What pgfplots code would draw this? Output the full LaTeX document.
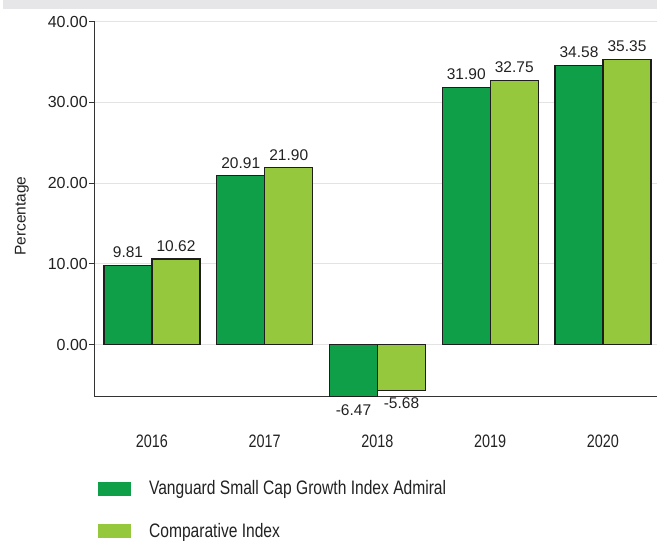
\documentclass[border=0pt]{standalone}
\usepackage{fontspec}
\setmainfont{Liberation Sans}
\newfontfamily\narrowfont[FakeStretch=0.8]{Liberation Sans}
\usepackage{pgfplots}
\pgfplotsset{compat=1.18}
\definecolor{dgreen}{HTML}{0F9F48}
\definecolor{lgreen}{HTML}{96C83E}
\definecolor{gridgray}{HTML}{E3E3E3}
\definecolor{bandgray}{HTML}{E6E6E8}
\definecolor{axisgray}{HTML}{333333}
\definecolor{bordergray}{HTML}{1E1E1E}
\definecolor{textgray}{HTML}{222222}
\begin{document}
\begin{tikzpicture}[x=1pt,y=1pt]
\useasboundingbox (0,0) rectangle (657,541);
\fill[bandgray] (3,532) rectangle (657,541);
\begin{axis}[
  at={(95pt,144pt)}, anchor=south west,
  scale only axis, width=562pt, height=375.3pt,
  xmin=-0.5055, xmax=4.479, ymin=-6.47, ymax=40,
  ybar=0pt, bar width=48pt,
  axis x line=bottom, axis y line=left,
  axis line style={-, draw=axisgray, line width=1pt},
  xtick={0,1,2,3,4},
  xticklabels={2016,2017,2018,2019,2020},
  x tick style={draw=none},
  xticklabel style={font=\narrowfont\fontsize{18}{18}\selectfont, text=textgray, anchor=center, yshift=-38pt},
  ytick={0,10,20,30,40},
  y tick style={draw=axisgray, line width=1pt},
  tick align=outside, major tick length=6pt,
  yticklabel style={font=\fontsize{16}{16}\selectfont, text=textgray, inner sep=1pt,
    /pgf/number format/.cd, fixed, fixed zerofill, precision=2, assume math mode=true},
  ymajorgrids, grid style={gridgray, line width=1pt},
  ylabel={Percentage},
  ylabel style={at={(axis description cs:-0.1300,0.482)}, anchor=center, font=\fontsize{15.5}{16}\selectfont, text=textgray},
  nodes near coords={\pgfmathprintnumber[fixed,fixed zerofill,precision=2,assume math mode=true]{\pgfplotspointmeta}},
  nodes near coords style={font=\fontsize{15.5}{16}\selectfont, text=textgray, inner sep=7pt},
  legend style={at={(axis description cs:0.0053,-0.2238)}, anchor=north west, draw=none, fill=none,
    inner sep=0pt, outer sep=0pt, row sep=24pt, column sep=18pt,
    font=\narrowfont\fontsize{19.5}{20}\selectfont, text=textgray,
    nodes={inner sep=0pt, text height=14pt, text depth=4.5pt}},
  legend cell align=left,
]
\addplot[fill=dgreen, draw=bordergray, line width=1.1pt,
  legend image code/.code={\fill[dgreen] (0pt,-5pt) rectangle (32pt,8pt);}]
  coordinates {(0,9.81) (1,20.91) (2,-6.47) (3,31.90) (4,34.58)};
\addlegendentry{Vanguard Small Cap Growth Index Admiral}
\addplot[fill=lgreen, draw=bordergray, line width=1.1pt,
  legend image code/.code={\fill[lgreen] (0pt,-5pt) rectangle (32pt,8pt);}]
  coordinates {(0,10.62) (1,21.90) (2,-5.68) (3,32.75) (4,35.35)};
\addlegendentry{Comparative Index}
\end{axis}
\end{tikzpicture}
\end{document}
